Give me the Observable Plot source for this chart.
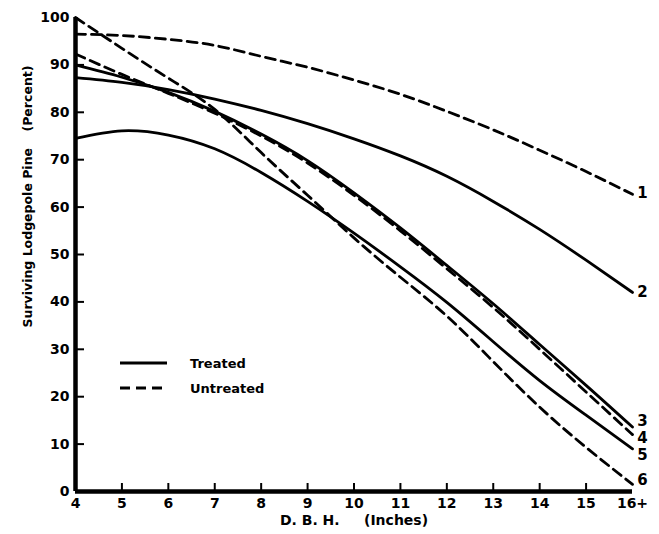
<!DOCTYPE html>
<html>
<head>
<meta charset="utf-8">
<script src="https://cdn.jsdelivr.net/npm/d3@7"></script>
<script src="https://cdn.jsdelivr.net/npm/@observablehq/plot@0.6"></script>
<style>
  html, body { margin: 0; padding: 0; background: #fff; }
  #chart { width: 659px; height: 534px; }
</style>
</head>
<body>
<div id="chart"></div>
<script>
// D.B.H. (inches) at which the curves were read
const dbh = [4, 5, 6, 7, 8, 9, 10, 11, 12, 13, 14, 15, 16];

// Surviving lodgepole pine (percent)
const curve1 = [96.5, 96.2, 95.4, 94.1, 91.8, 89.5, 86.8, 83.8, 80.2, 76.3, 72, 67.5, 62.7]; // untreated
const curve2 = [87.3, 86.3, 84.8, 82.8, 80.4, 77.6, 74.4, 70.8, 66.5, 61.2, 55.3, 48.8, 42]; // treated
const curve3 = [90, 87.4, 84.2, 80.2, 75.4, 69.8, 63, 55.6, 47.7, 39.6, 31, 22.4, 13.6];    // treated
const curve4 = [92.3, 88, 84, 79.8, 75, 69.3, 62.5, 55, 47, 38.8, 30, 21, 12];             // untreated
const curve5 = [74.5, 76.1, 75.2, 72.3, 67.3, 61.2, 54.5, 47.4, 39.9, 31.6, 23.4, 16.1, 9]; // treated
const curve6 = [100, 93.5, 87.2, 80.6, 71.5, 62.5, 53.5, 45.2, 37, 27.4, 17.8, 9.3, 1.5];   // untreated

const curveIds = ["1", "2", "3", "4", "5", "6"];
const curveTreatment = ["Untreated", "Treated", "Treated", "Untreated", "Treated", "Untreated"];
const curveValues = [curve1, curve2, curve3, curve4, curve5, curve6];
// vertical positions of the curve number labels at the right edge
const labelY = [63, 42, 14.8, 11.2, 7.6, 2.3];

const xDomain = [4, 16];
const yDomain = [0, 100];
const yTicks = [0, 10, 20, 30, 40, 50, 60, 70, 80, 90, 100];
const xTicks = [4, 5, 6, 7, 8, 9, 10, 11, 12, 13, 14, 15, 16];
const xTickLabels = ["4", "5", "6", "7", "8", "9", "10", "11", "12", "13", "14", "15", "16+"];

const rows = [];
curveIds.forEach((id, i) => {
  dbh.forEach((d, j) => rows.push({id, treatment: curveTreatment[i], dbh: d, pct: curveValues[i][j]}));
});
const labels = curveIds.map((id, i) => ({id, dbh: xDomain[1], pct: labelY[i]}));

const font = "DejaVu Sans";
const W = 659, H = 534, mL = 75, mR = 27, mT = 17, mB = 43;
// inward tick lengths converted from pixels to data units
const yTickLen = 9 * (xDomain[1] - xDomain[0]) / (W - mL - mR);
const xTickLen = 8 * (yDomain[1] - yDomain[0]) / (H - mT - mB);

const plot = Plot.plot({
  width: W,
  height: H,
  marginLeft: mL,
  marginRight: mR,
  marginTop: mT,
  marginBottom: mB,
  x: {domain: xDomain},
  y: {domain: yDomain},
  style: {fontFamily: font, fontSize: "13px", fontWeight: "bold", color: "#000", background: "#fff", overflow: "visible"},
  marks: [
    Plot.axisY({ticks: yTicks, tickSize: 0, tickPadding: 6, fontSize: 14, label: null}),
    Plot.axisX({ticks: xTicks, tickSize: 0, tickPadding: 7, fontSize: 14, tickFormat: d => xTickLabels[xTicks.indexOf(d)], label: null}),
    Plot.ruleY(yTicks.filter(t => t > yDomain[0] && t < yDomain[1]), {y: d => d, x1: xDomain[0], x2: xDomain[0] + yTickLen, stroke: "#000", strokeWidth: 2}),
    Plot.ruleX(xTicks.filter(t => t > xDomain[0] && t < xDomain[1]), {x: d => d, y1: yDomain[0], y2: yDomain[0] + xTickLen, stroke: "#000", strokeWidth: 2}),
    Plot.line(rows.filter(r => r.treatment === "Treated"), {x: "dbh", y: "pct", z: "id", curve: "natural", stroke: "#000", strokeWidth: 2.8}),
    Plot.line(rows.filter(r => r.treatment === "Untreated"), {x: "dbh", y: "pct", z: "id", curve: "natural", stroke: "#000", strokeWidth: 2.8, strokeDasharray: "10,6"}),
    Plot.ruleX([xDomain[0]], {stroke: "#000", strokeWidth: 4.5}),
    Plot.ruleY([yDomain[0]], {stroke: "#000", strokeWidth: 4.5, x1: xDomain[0], x2: xDomain[1]}),
    Plot.text(labels, {x: "dbh", y: "pct", text: "id", dx: 10, textAnchor: "middle", fontSize: 15, fontWeight: "bold"}),
    Plot.text(["D. B. H.     (Inches)"], {frameAnchor: "bottom", dy: 33, fontSize: 14, fontWeight: "bold"}),
    Plot.text(["Surviving Lodgepole Pine"], {frameAnchor: "left", dx: -48, dy: 73, rotate: -90, fontSize: 12.5, fontWeight: "bold"}),
    Plot.text(["(Percent)"], {frameAnchor: "left", dx: -48, dy: -123, rotate: -90, fontSize: 12.5, fontWeight: "bold"})
  ]
});

// legend inside the plot area
const svg = d3.select(plot);
const lg = svg.append("g").attr("font-family", font).attr("font-weight", "bold").attr("font-size", 13).attr("text-anchor", "start");
const legendItems = [{name: "Treated", dash: null}, {name: "Untreated", dash: "10,6"}];
legendItems.forEach((it, i) => {
  const yy = 363 + i * 25;
  lg.append("line").attr("x1", 120).attr("x2", 167).attr("y1", yy).attr("y2", yy)
    .attr("stroke", "#000").attr("stroke-width", 2.8).attr("stroke-dasharray", it.dash);
  lg.append("text").attr("x", 190).attr("y", yy).attr("dy", "0.35em").text(it.name);
});

document.getElementById("chart").appendChild(plot);
</script>
</body>
</html>
